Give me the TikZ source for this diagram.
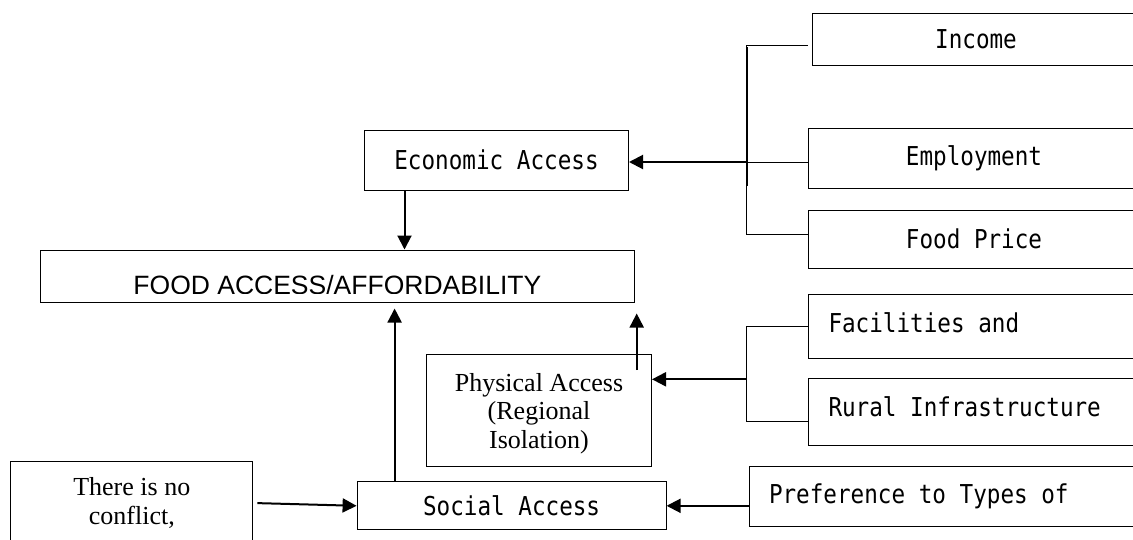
\documentclass[tikz,border=0pt]{standalone}
\usepackage{fontspec}
\setmainfont{Liberation Serif}
\newfontfamily\gothic[FakeStretch=0.87]{DejaVu Sans Mono}
\newfontfamily\arialfont{Liberation Sans}
\usetikzlibrary{arrows.meta}

\begin{document}
\begin{tikzpicture}[x=1pt,y=-1pt,
  box/.style={draw, rectangle, line width=1pt, inner sep=0pt},
  gtext/.style={font=\gothic\fontsize{26}{28}\selectfont},
  rtext/.style={font=\fontsize{26}{28.4}\selectfont, align=center},
  arr/.style={-{Triangle[length=14pt,width=14pt]}, line width=2pt}]
\clip (0,0) rectangle (1133,539);

% main box
\draw (337.4,276) node (10) [box, minimum width=594pt, minimum height=52pt] {};
\begin{scope}
\clip (40,250) rectangle (634,293);
\draw (337.4,294) node (11) [anchor=base, inner sep=0pt, font=\arialfont\fontsize{26.5}{30}\selectfont] {FOOD ACCESS/AFFORDABILITY};
\end{scope}

% economic access
\draw (496.5,160) node (20) [box, gtext, minimum width=264pt, minimum height=60pt] {Economic Access};
\draw (976,39)   node (21) [box, gtext, minimum width=327pt, minimum height=52pt] {Income};
\draw (974,158)  node (22) [box, gtext, minimum width=331pt, minimum height=60pt] {Employment};
\draw (974,239)  node (23) [box, gtext, minimum width=331pt, minimum height=58pt] {Food Price};

\coordinate (24) at (746.6,45);
\coordinate (25) at (746.6,234);
\coordinate (26) at (746.6,162);
\draw[line width=1pt, shorten >=4pt] (24) -- (24 -| 21.west);
\draw[line width=1pt] (24) -- (25) -- (25 -| 23.west);
\draw[line width=1pt] (26) -- (26 -| 22.west);
\draw[line width=2pt] ([yshift=-2pt]24) -- ([yshift=-141pt]24);
\draw[arr] (26) -- (26 -| 20.east);
\coordinate (27) at ([xshift=-92pt]20.south);
\draw[arr] (27) -- (27 |- 10.north);

% physical access
\draw (539,410.8) node (30) [box, rtext, minimum width=225pt, minimum height=112pt, text depth=0pt] {Physical Access\\(Regional\\Isolation)};
\draw (974,326) node (31) [box, gtext, minimum height=64pt, inner xsep=20pt, text depth=6pt] {\makebox[291pt][l]{Facilities and}};
\draw (974,412) node (32) [box, gtext, minimum height=67pt, inner xsep=20pt, text depth=10pt] {\makebox[291pt][l]{Rural Infrastructure}};

\coordinate (33) at (746.6,326.7);
\coordinate (34) at (746.6,421.7);
\coordinate (35) at (746.6,379.3);
\draw[line width=1pt] (33 -| 31.west) -- (33) -- (34) -- (34 -| 32.west);
\draw[arr] (35) -- (35 -| 30.east);
\coordinate (36) at (636.7,370);
\draw[arr, shorten >=11pt] (36) -- (36 |- 10.south);

% social access
\draw (511.6,505.8) node (40) [box, gtext, minimum width=309pt, minimum height=48pt] {Social Access};
\draw (944.5,496) node (41) [box, gtext, minimum height=60pt, inner xsep=20pt] {\makebox[351pt][l]{Preference to Types of}};
\draw (131.8,503) node (42) [box, rtext, minimum width=242pt, minimum height=84pt] {There is no\\conflict,};

\coordinate (43) at ([xshift=-117pt]40.north);
\draw[arr, shorten >=6pt] (43) -- (43 |- 10.south);
\draw[arr] (41.west |- 40.east) -- (40.east);
\draw[arr, shorten <=4pt] (42.east) -- (40.west);
\end{tikzpicture}
\end{document}
